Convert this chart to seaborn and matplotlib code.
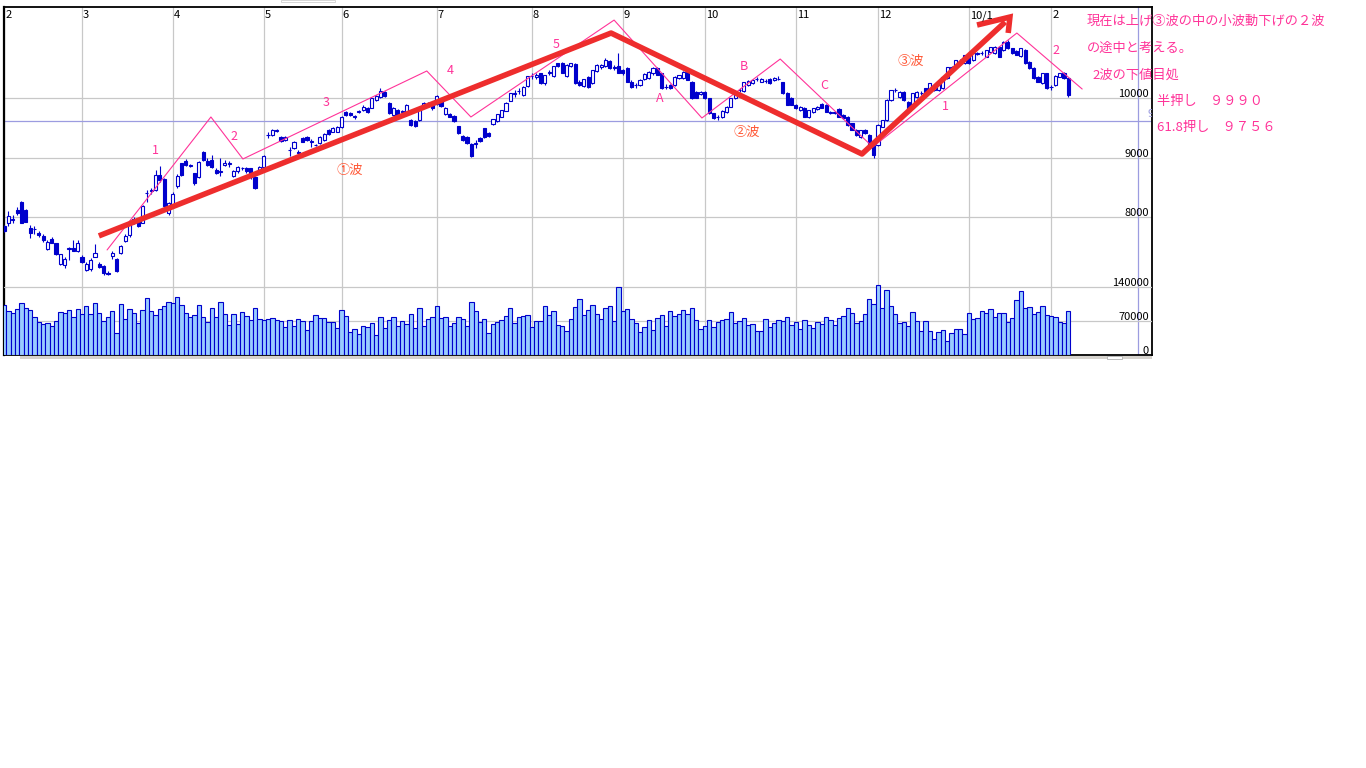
import numpy as np
import pandas as pd
import seaborn as sns
import matplotlib
matplotlib.use("Agg")
from matplotlib import pyplot as plt
from matplotlib.patches import Rectangle

# ---------------------------------------------------------------------------------------------
# data (daily bars, Feb 2009 - Feb 2010)
# ---------------------------------------------------------------------------------------------
month_labels = ['2', '3', '4', '5', '6', '7', '8', '9', '10', '11', '12', '10/1', '2']
month_start = [0, 18, 39, 60, 78, 100, 122, 143, 162, 183, 202, 223, 242]

open_px = [
    7855, 7900, 7960, 8125, 8265, 8125, 7815, 7795, 7740, 7685, 7470, 7635, 7565, 7215, 7190, 7475, 7480, 7435,
    7340, 7115, 7125, 7340, 7215, 7180, 7070, 7350, 7305, 7395, 7600, 7710, 7900, 7940, 7910, 8400, 8450, 8460, 8710, 8640, 8065,
    8210, 8530, 8905, 8945, 8870, 8740, 8670, 9090, 8950, 8965, 8800, 8760, 8880, 8900, 8700, 8770, 8820, 8830, 8820, 8680, 8790,
    8850, 9380, 9385, 9455, 9355, 9300, 9125, 9160, 9105, 9340, 9355, 9265, 9210, 9255, 9300, 9465, 9440, 9440,
    9510, 9775, 9760, 9690, 9770, 9805, 9830, 9840, 9970, 10025, 10100, 9915, 9720, 9805, 9770, 9775, 9635, 9625, 9635, 9860, 9915, 9915,
    9900, 9970, 9740, 9740, 9700, 9530, 9370, 9345, 9240, 9235, 9335, 9495, 9410, 9570, 9625, 9690, 9790, 9960, 10080, 10120, 10055, 10205,
    10370, 10350, 10420, 10250, 10425, 10375, 10585, 10600, 10375, 10540, 10575, 10280, 10205, 10365, 10250, 10465, 10530, 10540, 10630, 10515, 10540,
    10475, 10505, 10280, 10220, 10220, 10320, 10335, 10420, 10505, 10420, 10190, 10225, 10225, 10335, 10335, 10435, 10280, 10100, 10065,
    10110, 10000, 9745, 9685, 9690, 9775, 9860, 10000, 10135, 10120, 10225, 10250, 10320, 10280, 10290, 10325, 10305, 10325, 10270, 10085, 10000,
    9885, 9805, 9830, 9690, 9775, 9820, 9900, 9885, 9760, 9775, 9820, 9720, 9690, 9580, 9465, 9355, 9465, 9385, 9215,
    9215, 9525, 9635, 9970, 10135, 10025, 10110, 9945, 9830, 10025, 10090, 10165, 10140, 10140, 10140, 10165, 10335, 10515, 10530, 10630, 10590,
    10690, 10645, 10750, 10755, 10700, 10785, 10755, 10865, 10810, 10950, 10840, 10800, 10710, 10820, 10615, 10505, 10365, 10250, 10420,
    10185, 10225, 10365, 10430, 10335,
]
high_px = [
    7870, 8110, 8040, 8180, 8280, 8140, 7870, 7855, 7775, 7720, 7610, 7665, 7575, 7390, 7340, 7495, 7620, 7620,
    7370, 7250, 7310, 7545, 7240, 7200, 7090, 7440, 7320, 7530, 7715, 7955, 8000, 7960, 8200, 8460, 8500, 8790, 8860, 8660, 8250,
    8420, 8720, 8920, 8980, 8900, 8750, 8940, 9120, 8990, 9050, 8830, 8990, 8960, 8950, 8800, 8860, 8850, 8850, 8830, 8690, 8870,
    9040, 9440, 9480, 9480, 9370, 9370, 9175, 9290, 9130, 9350, 9370, 9310, 9240, 9370, 9410, 9480, 9510, 9540,
    9700, 9790, 9770, 9720, 9800, 9880, 9850, 10010, 10060, 10165, 10120, 9930, 9850, 9820, 9800, 9900, 9650, 9640, 9820, 9930, 9930, 9930,
    10060, 9990, 9850, 9760, 9720, 9540, 9380, 9360, 9250, 9300, 9350, 9500, 9430, 9660, 9740, 9810, 9930, 10090, 10140, 10170, 10200, 10380,
    10420, 10430, 10430, 10400, 10470, 10550, 10600, 10610, 10570, 10600, 10590, 10300, 10330, 10380, 10480, 10570, 10580, 10680, 10650, 10560, 10765,
    10500, 10520, 10300, 10260, 10320, 10420, 10460, 10530, 10520, 10430, 10240, 10240, 10380, 10400, 10460, 10480, 10290, 10120, 10130,
    10130, 10010, 9760, 9720, 9800, 9870, 10010, 10110, 10170, 10280, 10300, 10320, 10350, 10340, 10320, 10340, 10360, 10370, 10280, 10100, 10020,
    9900, 9870, 9850, 9810, 9840, 9870, 9920, 9900, 9790, 9790, 9830, 9730, 9700, 9590, 9480, 9470, 9480, 9400, 9230,
    9560, 9640, 9980, 10145, 10170, 10120, 10130, 9960, 10090, 10120, 10130, 10180, 10260, 10200, 10260, 10370, 10525, 10550, 10650, 10660, 10730,
    10700, 10760, 10780, 10790, 10820, 10870, 10880, 10880, 10960, 10980, 10850, 10820, 10850, 10830, 10630, 10520, 10380, 10430, 10430,
    10230, 10390, 10430, 10450, 10340,
]
low_px = [
    7760, 7845, 7900, 8030, 7900, 7915, 7660, 7720, 7675, 7590, 7450, 7560, 7370, 7200, 7145, 7285, 7425, 7415,
    7230, 7090, 7105, 7330, 7145, 7030, 7030, 7300, 7080, 7380, 7585, 7675, 7880, 7840, 7900, 8250, 8390, 8440, 8600, 8180, 8030,
    8190, 8500, 8690, 8860, 8850, 8550, 8660, 8950, 8860, 8830, 8720, 8700, 8860, 8840, 8680, 8750, 8790, 8750, 8650, 8480, 8770,
    8840, 9330, 9370, 9430, 9270, 9280, 9030, 9140, 9050, 9260, 9290, 9180, 9190, 9240, 9290, 9390, 9430, 9430,
    9500, 9700, 9700, 9660, 9750, 9790, 9760, 9830, 9960, 10010, 10020, 9740, 9700, 9700, 9740, 9760, 9530, 9520, 9620, 9840, 9870, 9800,
    9880, 9850, 9720, 9680, 9600, 9400, 9280, 9230, 9010, 9160, 9270, 9340, 9350, 9550, 9610, 9680, 9780, 9950, 10030, 10080, 10040, 10190,
    10330, 10330, 10240, 10230, 10400, 10360, 10520, 10420, 10360, 10520, 10240, 10200, 10190, 10180, 10240, 10450, 10500, 10530, 10490, 10480, 10420,
    10400, 10270, 10180, 10170, 10200, 10300, 10320, 10400, 10390, 10150, 10150, 10150, 10210, 10320, 10320, 10300, 9990, 10000, 10050,
    9990, 9740, 9660, 9640, 9670, 9760, 9850, 9990, 10100, 10110, 10210, 10240, 10290, 10270, 10250, 10240, 10290, 10300, 10080, 9880, 9880,
    9820, 9790, 9680, 9670, 9760, 9810, 9830, 9770, 9740, 9740, 9680, 9650, 9540, 9460, 9370, 9340, 9400, 9180, 8990,
    9200, 9510, 9620, 9960, 10110, 10010, 9960, 9790, 9820, 10010, 10060, 10100, 10130, 10130, 10130, 10150, 10320, 10490, 10520, 10600, 10580,
    10580, 10630, 10720, 10730, 10690, 10770, 10740, 10690, 10800, 10830, 10750, 10720, 10700, 10580, 10500, 10330, 10270, 10240, 10160,
    10140, 10210, 10350, 10320, 10020,
]
close_px = [
    7775, 8020, 7970, 8065, 7910, 7925, 7740, 7800, 7710, 7610, 7580, 7575, 7380, 7380, 7305, 7485, 7435, 7565,
    7255, 7215, 7285, 7405, 7170, 7060, 7050, 7395, 7090, 7520, 7685, 7900, 7970, 7855, 8190, 8415, 8460, 8710, 8625, 8195, 8235,
    8390, 8690, 8710, 8880, 8885, 8570, 8925, 8960, 8880, 8850, 8740, 8770, 8920, 8905, 8780, 8840, 8825, 8770, 8710, 8500, 8850,
    9030, 9390, 9465, 9465, 9290, 9355, 9135, 9270, 9075, 9270, 9300, 9275, 9220, 9355, 9395, 9400, 9495, 9525,
    9690, 9720, 9720, 9695, 9780, 9860, 9775, 10000, 10040, 10130, 10040, 9760, 9830, 9720, 9780, 9885, 9550, 9535, 9805, 9915, 9885, 9830,
    10040, 9870, 9830, 9690, 9625, 9410, 9300, 9245, 9030, 9245, 9290, 9355, 9365, 9645, 9735, 9805, 9925, 10085, 10085, 10130, 10195, 10375,
    10380, 10400, 10250, 10390, 10435, 10540, 10540, 10430, 10560, 10585, 10250, 10225, 10320, 10195, 10475, 10560, 10560, 10645, 10505, 10525, 10430,
    10420, 10280, 10195, 10225, 10305, 10410, 10445, 10505, 10400, 10165, 10195, 10165, 10365, 10390, 10445, 10305, 10000, 10010, 10110,
    10000, 9745, 9675, 9690, 9785, 9860, 10000, 10100, 10140, 10270, 10290, 10305, 10325, 10325, 10285, 10250, 10345, 10320, 10085, 9885, 9890,
    9830, 9860, 9690, 9805, 9830, 9860, 9840, 9775, 9765, 9745, 9690, 9665, 9550, 9465, 9385, 9465, 9410, 9185, 9045,
    9550, 9635, 9970, 10140, 10140, 10110, 9970, 9805, 10085, 10110, 10095, 10110, 10250, 10195, 10250, 10365, 10520, 10520, 10645, 10635, 10725,
    10585, 10755, 10755, 10760, 10810, 10865, 10865, 10700, 10950, 10840, 10755, 10725, 10840, 10590, 10505, 10335, 10280, 10420, 10165,
    10190, 10375, 10420, 10335, 10055,
]
volume = [
    102950, 90600, 85800, 94700, 106400, 97400, 92700, 78900, 67300, 63200,
    65200, 59700, 69300, 87900, 85800, 92000, 78900, 94000, 83700, 100200,
    84400, 106400, 85800, 69300, 78900, 89900, 44600, 104300, 73400, 94000,
    85800, 65200, 92000, 116700, 89900, 83000, 94000, 100200, 109800, 107700,
    118700, 102950, 87200, 78900, 81700, 103600, 78900, 67300, 96800, 78200,
    109800, 83700, 61100, 84400, 63800, 88500, 81000, 72700, 96100, 74800,
    72700, 74800, 76900, 72700, 69300, 58300, 71400, 59000, 74800, 69300,
    50800, 69300, 81700, 75500, 75500, 67300, 68600, 54900, 92000, 80300,
    46700, 52900, 43900, 59000, 57000, 65200, 40500, 78200, 54900, 71400,
    78200, 59000, 69300, 63200, 83700, 54900, 96800, 59000, 73400, 78200,
    100200, 75500, 77600, 59000, 65200, 78200, 73400, 59000, 108400, 89900,
    67300, 73400, 44600, 63200, 67300, 71400, 79600, 96800, 65200, 77600,
    79600, 81700, 57000, 69300, 69300, 100200, 81700, 89900, 61100, 59000,
    48700, 73400, 98200, 114600, 81700, 92000, 102300, 83700, 73400, 96100,
    100200, 69300, 139300, 89900, 94000, 73400, 65200, 46700, 57000, 71400,
    50800, 75500, 81700, 59000, 89900, 79600, 83700, 92000, 83700, 96100,
    71400, 52900, 59000, 71400, 57000, 67300, 71400, 73400, 87900, 65200,
    69300, 75500, 61100, 63200, 48700, 48700, 73400, 57000, 65200, 71400,
    69300, 77600, 61100, 67300, 52900, 71400, 61100, 54900, 67300, 63200,
    77600, 71400, 61100, 75500, 79600, 96100, 85800, 65200, 69300, 83700,
    114600, 104300, 143500, 96100, 133200, 100200, 83700, 65200, 67300, 59000,
    87900, 69300, 48700, 69300, 48700, 32300, 46700, 50800, 28200, 44600,
    52900, 52900, 42600, 85800, 73400, 75500, 89900, 85800, 94000, 77600,
    85800, 85800, 67300, 75500, 112600, 131200, 96100, 98200, 83700, 87900,
    100200, 81700, 79600, 77600, 67300, 65000, 89900,
]

price_grid = [8000, 9000, 10000]
price_grid_labels = ['8000', '9000', '10000']
volume_grid = [0, 70000, 140000]
volume_grid_labels = ['0', '70000', '140000']

# elliott wave annotations (bar index, price)
main_wave_x = [21.9, 140.3, 198.3, 231.4]
main_wave_y = [7687, 11097, 9064, 11283]
arrow_x = [224.9, 232.5, 232.1]
arrow_y = [11232, 11366, 11098]
sub_wave_x = [23.8, 47.8, 55.2, 97.7, 107.9, 141.0, 161.3, 179.4, 200.8, 234.1, 249.2]
sub_wave_y = [7451, 9686, 8980, 10459, 9686, 11315, 9669, 10660, 9182, 11097, 10156]
sub_labels = ['1', '2', '3', '4', '5', 'A', 'B', 'C', '1', '2']
sub_label_x = [34.9, 53.1, 74.4, 103.1, 127.6, 151.5, 171.0, 189.5, 217.7, 243.2]
sub_label_y = [9115, 9360, 9921, 10462, 10912, 9995, 10530, 10223, 9854, 10810]
wave_names = ['①波', '②波', '③波']
wave_name_x = [80.0, 171.6, 209.6]
wave_name_y = [8780, 9425, 10627]
cursor_price = 9613
cursor_x = 262.2

notes = ['現在は上げ③波の中の小波動下げの２波', 'の途中と考える。', '2波の下値目処',
         '半押し　９９９０', '61.8押し　９７５６']
note_left = [1087, 1087, 1092, 1157, 1157]
note_top = [21.5, 48, 75, 101, 127]

# ---------------------------------------------------------------------------------------------
# plotting
# ---------------------------------------------------------------------------------------------
sns.set_theme(style='white')
plt.rcParams['font.family'] = ['Noto Sans CJK JP', 'DejaVu Sans']

BLUE = '#0000CC'
PINK = '#FF3399'
ORANGE = '#FF5533'
RED = '#EE2D2D'
GRID = '#C8C8C8'
CURSOR = '#9C9CE0'

W, H = 1366, 768
L, R, T, B = 3.5, 1152, 7, 355
fig = plt.figure(figsize=(W / 100, H / 100), dpi=100)
fig.patch.set_facecolor('white')
ax = fig.add_axes([L / W, 1 - B / H, (R - L) / W, (B - T) / H])
ax.set_facecolor('white')
axv = ax.twinx()

# pixel scale of the original chart
px_per_bar = 4.326
bar0_px = 4.13
price_per_px = 16.81
x_lo = (L - bar0_px) / px_per_bar
x_hi = (R - bar0_px) / px_per_bar
y_hi = 10000 + (98.3 - T) * price_per_px
y_lo = 10000 - (B - 98.3) * price_per_px
vol_per_px = 140000 / 68.0

idx = np.arange(len(close_px))
o = np.array(open_px, dtype=float)
h = np.array(high_px, dtype=float)
lo = np.array(low_px, dtype=float)
c = np.array(close_px, dtype=float)

# grid
for m in month_start:
    ax.axvline(m, color=GRID, lw=0.9, zorder=0.5)
for g in price_grid:
    ax.axhline(g, color=GRID, lw=0.9, zorder=0.5)
ax.axhline(cursor_price, color=CURSOR, lw=0.9, zorder=0.6)
ax.axvline(cursor_x, color=CURSOR, lw=0.9, zorder=0.6)

# volume bars
vol_df = pd.DataFrame({'day': idx, 'volume': volume})
sns.barplot(data=vol_df, x='day', y='volume', native_scale=True, orient='x', width=1.0,
            color='#99CCFF', saturation=1, edgecolor=BLUE, linewidth=0.8,
            errorbar=None, ax=axv, zorder=2)
for g in volume_grid[1:]:
    axv.axhline(g, color=GRID, lw=0.9, zorder=0.5)

# candles
up = c >= o
ax.vlines(idx, lo, h, color=BLUE, lw=0.8, zorder=3)
body_low = np.minimum(o, c)
body_h = np.abs(c - o)
ax.bar(idx[up], body_h[up], bottom=body_low[up], width=0.72, facecolor='white',
       edgecolor=BLUE, linewidth=0.8, zorder=4)
ax.bar(idx[~up], body_h[~up], bottom=body_low[~up], width=0.72, facecolor=BLUE,
       edgecolor=BLUE, linewidth=0.8, zorder=4)

# wave annotations
ax.plot(sub_wave_x, sub_wave_y, color=PINK, lw=0.8, zorder=5)
ax.plot(main_wave_x, main_wave_y, color=RED, lw=4.0, zorder=6, solid_capstyle='butt')
ax.plot(arrow_x, arrow_y, color=RED, lw=4.0, zorder=6, solid_capstyle='butt', solid_joinstyle='miter')
for s, x, y in zip(sub_labels, sub_label_x, sub_label_y):
    ax.text(x, y, s, color=PINK, fontsize=9, ha='center', va='center', zorder=7)
for s, x, y in zip(wave_names, wave_name_x, wave_name_y):
    ax.text(x, y, s, color=ORANGE, fontsize=9.5, ha='center', va='center', zorder=7)

# month labels along the top
for lab, m in zip(month_labels, month_start):
    ax.text(m + 0.25, 10000 + (98.3 - 15.5) * price_per_px, lab, fontsize=8,
            color='black', ha='left', va='center', zorder=8)

# right side scale labels
lab_x = (1149 - bar0_px) / px_per_bar
for g, lab in zip(price_grid, price_grid_labels):
    ax.text(lab_x, g + 1.2 * price_per_px, lab, fontsize=8, color='black',
            ha='right', va='baseline', zorder=8)
for g, lab in zip(volume_grid, volume_grid_labels):
    axv.text(lab_x, g + 1.2 * vol_per_px, lab, fontsize=8, color='black',
             ha='right', va='baseline', zorder=8)
ax.text((1147 - bar0_px) / px_per_bar, 10000 - (117.3 - 98.3) * price_per_px, '9',
        fontsize=8, color=CURSOR, ha='left', va='baseline', zorder=8, clip_on=True)

ax.set_xlim(x_lo, x_hi)
ax.set_ylim(y_lo, y_hi)
axv.set_ylim(0, (B - T) * vol_per_px)
axv.set_xlim(x_lo, x_hi)
for a in (ax, axv):
    a.set_xticks([])
    a.set_yticks([])
    a.set_xlabel('')
    a.set_ylabel('')
for sp in axv.spines.values():
    sp.set_visible(False)
for name, sp in ax.spines.items():
    sp.set_visible(True)
    sp.set_color('black')
    sp.set_linewidth(1.3)
ax.spines['left'].set_linewidth(1.6)
axv.set_zorder(ax.get_zorder() + 1)
axv.patch.set_visible(False)

# notes to the right
for s, x, y in zip(notes, note_left, note_top):
    fig.text(x / W, 1 - y / H, s, color=PINK, fontsize=9.5, ha='left', va='center')

# scrollbar strip and small toolbar box of the original screen
fig.patches.append(Rectangle((20 / W, 1 - 359.5 / H), (1152 - 20) / W, 3.5 / H,
                             transform=fig.transFigure, facecolor='#D6D3CE', edgecolor='none'))
fig.patches.append(Rectangle((1107 / W, 1 - 359.5 / H), 15 / W, 3.5 / H,
                             transform=fig.transFigure, facecolor='white', edgecolor='#B0B0B0', lw=0.6))
fig.patches.append(Rectangle((281 / W, 1 - 2 / H), 54 / W, 2 / H,
                             transform=fig.transFigure, facecolor='white', edgecolor='#D0D0D0', lw=0.6))

fig.savefig('out.png', dpi=100, facecolor='white')
